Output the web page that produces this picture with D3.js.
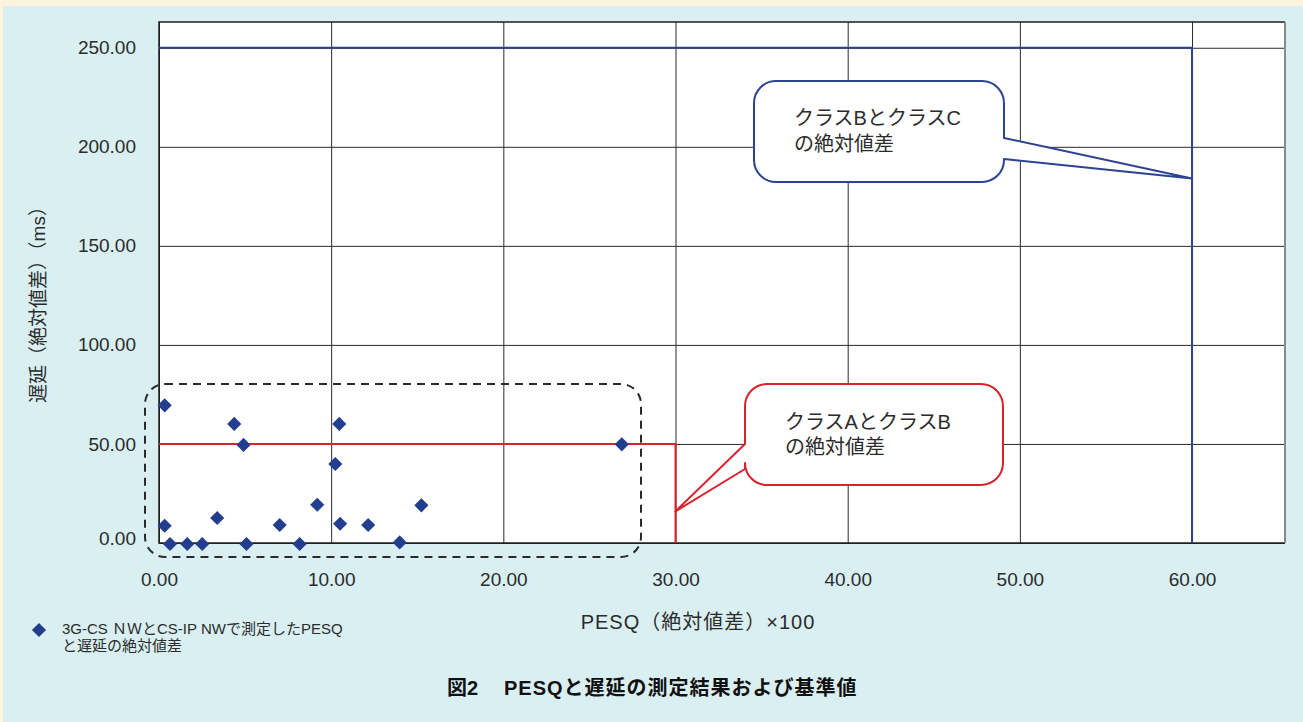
<!DOCTYPE html>
<html>
<head>
<meta charset="utf-8">
<script src="https://cdn.jsdelivr.net/npm/d3@7"></script>
<style>
  body { margin: 0; background: #fcf4dc; }
  svg { display: block; font-family: "Liberation Sans", "Noto Sans CJK JP", sans-serif; }
</style>
</head>
<body>
<div id="chart"></div>
<script>
// PESQ diff (x100) vs delay diff (ms)
var pesq  = [0.33, 4.37, 4.91, 10.47, 10.24, 26.88, 0.33, 0.64, 1.64, 2.51, 3.38, 5.08, 7.01, 8.17, 9.19, 10.52, 12.15, 13.98, 15.24];
var delay = [69.5, 60.1, 49.5, 60.1, 39.9, 49.8, 8.7, -0.5, -0.5, -0.5, 12.6, -0.5, 9.1, -0.5, 19.3, 9.7, 9.1, 0.3, 19.0];

var xTicks = [0, 10, 20, 30, 40, 50, 60];
var yTicks = [0, 50, 100, 150, 200, 250];

// class limits: A/B and B/C
var limitAB = {pesq: 30, delay: 50, tip: 16};
var limitBC = {pesq: 60, delay: 250, tip: 184};

var W = 1303, H = 722;
var plot = {left: 159, right: 1285, top: 22, bottom: 543};

var svg = d3.select("#chart").append("svg")
  .attr("width", W)
  .attr("height", H);

// panels
svg.append("rect").attr("width", W).attr("height", H).attr("fill", "#fcf4dc");
svg.append("rect").attr("x", 3).attr("y", 6).attr("width", W - 3).attr("height", H - 6).attr("fill", "#d9eff2");

var x = d3.scaleLinear().domain([0, 65.4]).range([plot.left, plot.right]);
var y = d3.scaleLinear().domain([0, 263]).range([plot.bottom, plot.top]);

svg.append("rect")
  .attr("x", plot.left).attr("y", plot.top)
  .attr("width", plot.right - plot.left).attr("height", plot.bottom - plot.top)
  .attr("fill", "#fff");

var fmt = d3.format(".2f");

var xAxis = svg.append("g")
  .attr("transform", "translate(0," + plot.bottom + ")")
  .call(d3.axisBottom(x).tickValues(xTicks).tickFormat(fmt)
    .tickSizeInner(-(plot.bottom - plot.top)).tickSizeOuter(0).tickPadding(30));

var yAxis = svg.append("g")
  .attr("transform", "translate(" + plot.left + ",0)")
  .call(d3.axisLeft(y).tickValues(yTicks).tickFormat(fmt)
    .tickSizeInner(-(plot.right - plot.left)).tickSizeOuter(0).tickPadding(23));

[xAxis, yAxis].forEach(function(a) {
  a.select(".domain").remove();
  a.selectAll(".tick line").attr("stroke", "#2a2a2a").attr("stroke-width", 1);
  a.selectAll(".tick text")
    .attr("fill", "#2b2b2b")
    .style("font-size", "19px")
    .style("font-family", "'Liberation Sans', sans-serif");
});
yAxis.selectAll(".tick").filter(function(d) { return d === 0; })
  .select("text").attr("y", -5);

// plot frame
svg.append("path")
  .attr("d", "M" + plot.right + "," + plot.top + "H" + plot.left + "V" + plot.bottom + "H" + plot.right)
  .attr("fill", "none").attr("stroke", "#1e1e1e").attr("stroke-width", 1.5);
svg.append("line")
  .attr("x1", plot.right).attr("x2", plot.right).attr("y1", plot.top).attr("y2", plot.bottom)
  .attr("stroke", "#8a8a8a").attr("stroke-width", 2);

// threshold lines
var red = "#d8232c", blue = "#2c4392";
svg.append("path")
  .attr("d", "M" + x(0) + "," + y(limitAB.delay) + "H" + x(limitAB.pesq) + "V" + y(0))
  .attr("fill", "none").attr("stroke", red).attr("stroke-width", 2);
svg.append("path")
  .attr("d", "M" + x(0) + "," + y(limitBC.delay) + "H" + x(limitBC.pesq) + "V" + y(0))
  .attr("fill", "none").attr("stroke", blue).attr("stroke-width", 2);

// dashed group outline
svg.append("rect")
  .attr("x", 145).attr("y", 384)
  .attr("width", 496).attr("height", 173)
  .attr("rx", 20).attr("ry", 20)
  .attr("fill", "none").attr("stroke", "#2a2a2a")
  .attr("stroke-width", 2).attr("stroke-dasharray", "8,6");

// callout: rounded box with a tail on left or right side
function callout(b, side, t1, t2, tip) {
  var p = d3.path(), r = b.r;
  p.moveTo(b.x0 + r, b.y0);
  p.lineTo(b.x1 - r, b.y0);
  p.arcTo(b.x1, b.y0, b.x1, b.y0 + r, r);
  if (side === "right") {
    p.lineTo(b.x1, t1);
    p.lineTo(tip[0], tip[1]);
    p.lineTo(b.x1, t2);
  }
  p.lineTo(b.x1, b.y1 - r);
  p.arcTo(b.x1, b.y1, b.x1 - r, b.y1, r);
  p.lineTo(b.x0 + r, b.y1);
  p.arcTo(b.x0, b.y1, b.x0, b.y1 - r, r);
  if (side === "left") {
    p.lineTo(b.x0, t2);
    p.lineTo(tip[0], tip[1]);
    p.lineTo(b.x0, t1);
  }
  p.lineTo(b.x0, b.y0 + r);
  p.arcTo(b.x0, b.y0, b.x0 + r, b.y0, r);
  p.closePath();
  return p.toString();
}

svg.append("path")
  .attr("d", callout({x0: 745, y0: 384, x1: 1003, y1: 485, r: 22}, "left", 444, 469,
    [x(limitAB.pesq), y(limitAB.tip)]))
  .attr("fill", "#fff").attr("stroke", red).attr("stroke-width", 2).attr("stroke-linejoin", "round");

svg.append("path")
  .attr("d", callout({x0: 754, y0: 81, x1: 1004, y1: 182, r: 22}, "right", 138, 159,
    [x(limitBC.pesq), y(limitBC.tip)]))
  .attr("fill", "#fff").attr("stroke", blue).attr("stroke-width", 2).attr("stroke-linejoin", "round");

function lines(tx, ty, arr, size, gap) {
  var t = svg.append("text")
    .attr("x", tx).attr("y", ty)
    .attr("fill", "#2b2b2b")
    .style("font-size", size + "px");
  arr.forEach(function(s, i) {
    t.append("tspan").attr("x", tx).attr("y", ty + i * gap).text(s);
  });
  return t;
}

lines(785, 429, ["クラスAとクラスB", "の絶対値差"], 20, 25);
lines(794, 125, ["クラスBとクラスC", "の絶対値差"], 20, 26);

// points
var diamond = d3.symbol().type(d3.symbolSquare).size(100);
svg.append("g").selectAll("path")
  .data(d3.range(pesq.length))
  .join("path")
  .attr("d", diamond)
  .attr("transform", function(i) {
    return "translate(" + x(pesq[i]) + "," + y(delay[i]) + ") rotate(45)";
  })
  .attr("fill", "#233e8e");

// axis titles
svg.append("text")
  .attr("transform", "translate(45,300) rotate(-90)")
  .attr("text-anchor", "middle")
  .attr("fill", "#2b2b2b")
  .style("font-size", "19px")
  .text("遅延（絶対値差）（ms）");

svg.append("text")
  .attr("x", 698).attr("y", 629)
  .attr("text-anchor", "middle")
  .attr("fill", "#2b2b2b")
  .style("font-size", "20px")
  .style("letter-spacing", "1px")
  .text("PESQ（絶対値差）×100");

// legend
svg.append("path")
  .attr("d", diamond)
  .attr("transform", "translate(39,630) rotate(45)")
  .attr("fill", "#233e8e");
lines(62, 634, ["3G-CS ＮＷとCS-IP NWで測定したPESQ", "と遅延の絶対値差"], 15, 17);

// caption
svg.append("text")
  .attr("x", 447).attr("y", 695)
  .attr("fill", "#111")
  .style("font-size", "20px").style("font-weight", "bold")
  .text("図2");
svg.append("text")
  .attr("x", 504).attr("y", 695)
  .attr("fill", "#111")
  .style("font-size", "20px").style("font-weight", "bold")
  .style("letter-spacing", "1px")
  .text("PESQと遅延の測定結果および基準値");
</script>
</body>
</html>
